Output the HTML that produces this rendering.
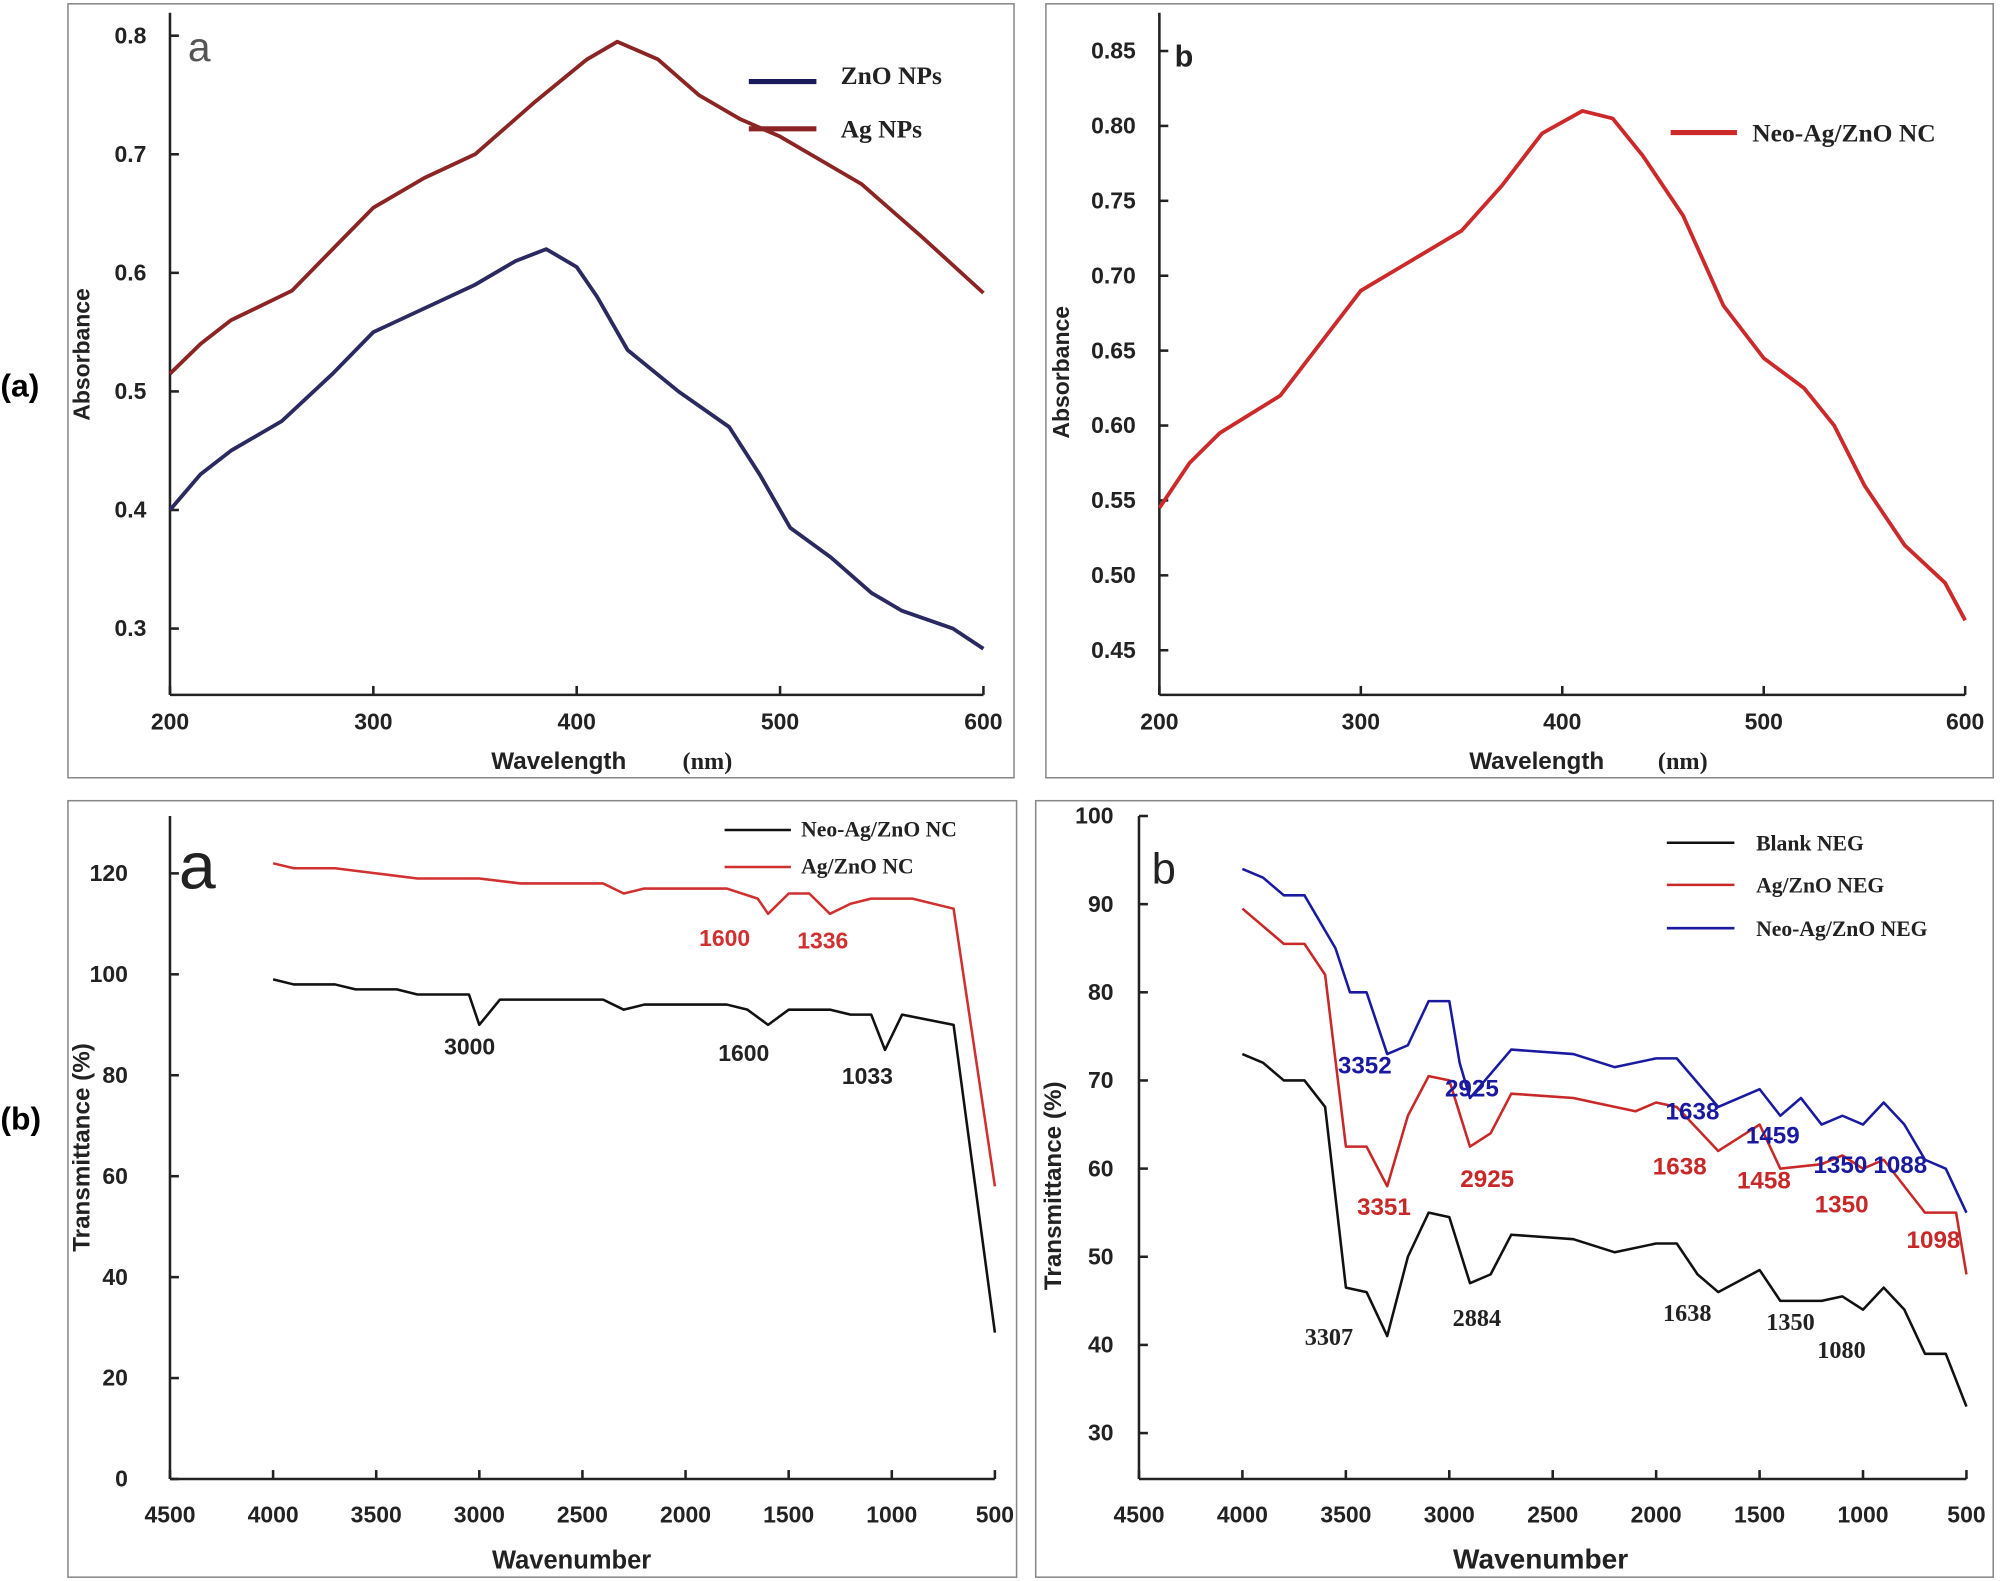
<!DOCTYPE html>
<html><head><meta charset="utf-8"><style>
html,body{margin:0;padding:0;background:#fff}
svg{display:block}
text{font-family:"Liberation Sans",Arial,sans-serif;font-weight:bold}
.s{font-family:"Liberation Serif",serif;font-weight:bold}
</style></head><body>
<svg id="c" width="2000" height="1581" viewBox="0 0 1568 1240" xmlns="http://www.w3.org/2000/svg">
<rect width="1568" height="1240" fill="#fff"/>
<rect x="53" y="3" width="742" height="607" fill="none" stroke="#888" stroke-width="1.2"/>
<rect x="820" y="3" width="743" height="607" fill="none" stroke="#888" stroke-width="1.2"/>
<rect x="53" y="628" width="744" height="609" fill="none" stroke="#888" stroke-width="1.2"/>
<rect x="812" y="628" width="751" height="609" fill="none" stroke="#888" stroke-width="1.2"/>
<text x="0" y="311" font-size="25" fill="#000">(a)</text>
<text x="0" y="886" font-size="25" fill="#000">(b)</text>
<g id="g"></g>
</svg>
<script>
var g=document.getElementById('g'),h='';
function P(pts,fx,fy,col,w){h+='<polyline fill="none" stroke="'+col+'" stroke-width="'+w+'" stroke-linejoin="round" points="'+pts.map(function(p){return fx(p[0]).toFixed(1)+','+fy(p[1]).toFixed(1)}).join(' ')+'"/>';}
function T(x,y,s,sz,col,anc,cls,rot){h+='<text x="'+x+'" y="'+y+'" font-size="'+sz+'" fill="'+(col||'#222')+'"'+(anc?' text-anchor="'+anc+'"':'')+(cls?' class="'+cls+'"':'')+(rot?' transform="rotate(-90 '+x+' '+y+')"':'')+'>'+s+'</text>';}
function L(a,b,c,d,w){h+='<line x1="'+a+'" y1="'+b+'" x2="'+c+'" y2="'+d+'" stroke="#222" stroke-width="'+(w||2)+'"/>';}
// Panel 1
var fx1=function(x){return 133+(x-200)*638/400},fy1=function(y){return 28+(0.8-y)*930};
L(133,10,133,545);L(133,545,771,545);
[200,300,400,500,600].forEach(function(v){L(fx1(v),545,fx1(v),538);T(fx1(v),572,v,18,'#222','middle');});
[0.3,0.4,0.5,0.6,0.7,0.8].forEach(function(v){L(133,fy1(v),140,fy1(v));T(102,fy1(v)+6,v.toFixed(1),18,'#222','middle');});
T(70,278,'Absorbance',18,'#222','middle','',1);
T(385,603,'Wavelength',19,'#222');T(535,603,'(nm)',19,'#222','','s');
h+='<text x="147" y="48" font-size="32" fill="#555" style="font-weight:normal">a</text>';
h+='<line x1="587" y1="64" x2="640" y2="64" stroke="#1a1a5a" stroke-width="4"/>';
h+='<line x1="587" y1="101" x2="640" y2="101" stroke="#8b2525" stroke-width="4"/>';
T(659,66,'ZnO NPs',20,'#222','','s');T(659,108,'Ag NPs',20,'#222','','s');
P([[200,.515],[215,.54],[230,.56],[260,.585],[280,.62],[300,.655],[325,.68],[350,.70],[380,.745],[405,.78],[420,.795],[440,.78],[460,.75],[480,.73],[500,.715],[520,.695],[540,.675],[570,.63],[600,.583]],fx1,fy1,'#8b2525',3);
P([[200,.40],[215,.43],[230,.45],[255,.475],[280,.515],[300,.55],[325,.57],[350,.59],[370,.61],[385,.62],[400,.605],[410,.58],[425,.535],[450,.50],[475,.47],[490,.43],[505,.385],[525,.36],[545,.33],[560,.315],[585,.30],[600,.283]],fx1,fy1,'#2a2a60',3);
// Panel 2
var fx2=function(x){return 909+(x-200)*632/400},fy2=function(y){return 40+(0.85-y)*1175};
L(909,10,909,545);L(909,545,1541,545);
[200,300,400,500,600].forEach(function(v){L(fx2(v),545,fx2(v),538);T(fx2(v),572,v,18,'#222','middle');});
[0.45,0.5,0.55,0.6,0.65,0.7,0.75,0.8,0.85].forEach(function(v){L(909,fy2(v),916,fy2(v));T(873,fy2(v)+6,v.toFixed(2),18,'#222','middle');});
T(838,292,'Absorbance',18,'#222','middle','',1);
T(1152,603,'Wavelength',19,'#222');T(1300,603,'(nm)',19,'#222','','s');
T(921,52,'b',24,'#222');
h+='<line x1="1310" y1="104" x2="1362" y2="104" stroke="#cc2a2a" stroke-width="4"/>';
T(1374,111,'Neo-Ag/ZnO NC',20,'#222','','s');
P([[200,.545],[215,.575],[230,.595],[260,.62],[280,.655],[300,.69],[325,.71],[350,.73],[370,.76],[390,.795],[410,.81],[425,.805],[440,.78],[460,.74],[480,.68],[500,.645],[520,.625],[535,.60],[550,.56],[570,.52],[590,.495],[600,.47]],fx2,fy2,'#cc2a2a',3);
// Panel 3
var fx3=function(x){return 133+(4500-x)*647/4000},fy3=function(y){return 1160-y*475/120};
L(133,640,133,1160);L(133,1160,780,1160);
[4500,4000,3500,3000,2500,2000,1500,1000,500].forEach(function(v){L(fx3(v),1160,fx3(v),1153);T(fx3(v),1194,v,18,'#222','middle');});
[0,20,40,60,80,100,120].forEach(function(v){L(133,fy3(v),140,fy3(v));T(100,fy3(v)+6,v,18,'#222','end');});
T(70,900,'Transmittance (%)',19,'#222','middle','',1);
T(448,1230,'Wavenumber',20,'#222','middle');
h+='<text x="140" y="697" font-size="52" fill="#222" style="font-weight:normal">a</text>';
h+='<line x1="568" y1="651" x2="620" y2="651" stroke="#111" stroke-width="2"/><line x1="568" y1="680" x2="620" y2="680" stroke="#d03030" stroke-width="2"/>';
T(628,656,'Neo-Ag/ZnO NC',17,'#222','','s');T(628,685,'Ag/ZnO NC',17,'#222','','s');
P([[4000,122],[3900,121],[3700,121],[3500,120],[3300,119],[3000,119],[2800,118],[2400,118],[2300,116],[2200,117],[1800,117],[1650,115],[1600,112],[1500,116],[1400,116],[1300,112],[1200,114],[1100,115],[900,115],[700,113],[500,58]],fx3,fy3,'#d03030',2);
P([[4000,99],[3900,98],[3700,98],[3600,97],[3400,97],[3300,96],[3050,96],[3000,90],[2900,95],[2400,95],[2300,93],[2200,94],[1800,94],[1700,93],[1600,90],[1500,93],[1300,93],[1200,92],[1100,92],[1033,85],[950,92],[700,90],[500,29]],fx3,fy3,'#111',2);
T(548,742,'1600',18,'#d03030');T(625,744,'1336',18,'#d03030');
T(348,827,'3000',18,'#222');T(563,832,'1600',18,'#222');T(660,850,'1033',18,'#222');
// Panel 4
var fx4=function(x){return 893+(4500-x)*649/4000},fy4=function(y){return 640+(100-y)*6.914};
L(893,640,893,1160);L(893,1160,1542,1160);
[4500,4000,3500,3000,2500,2000,1500,1000,500].forEach(function(v){L(fx4(v),1160,fx4(v),1153);T(fx4(v),1194,v,18,'#222','middle');});
[30,40,50,60,70,80,90,100].forEach(function(v){L(893,fy4(v),900,fy4(v));T(873,fy4(v)+6,v,18,'#222','end');});
T(832,930,'Transmittance (%)',19,'#222','middle','',1);
T(1208,1230,'Wavenumber',22,'#222','middle');
h+='<text x="903" y="693" font-size="34" fill="#222" style="font-weight:normal">b</text>';
h+='<line x1="1307" y1="661" x2="1360" y2="661" stroke="#111" stroke-width="2"/><line x1="1307" y1="694" x2="1360" y2="694" stroke="#c82828" stroke-width="2"/><line x1="1307" y1="728" x2="1360" y2="728" stroke="#1a1aa0" stroke-width="2"/>';
T(1377,667,'Blank NEG',17,'#222','','s');T(1377,700,'Ag/ZnO NEG',17,'#222','','s');T(1377,734,'Neo-Ag/ZnO NEG',17,'#222','','s');
P([[4000,94],[3900,93],[3800,91],[3700,91],[3550,85],[3480,80],[3400,80],[3300,73],[3200,74],[3100,79],[3000,79],[2950,72],[2900,68],[2700,73.5],[2400,73],[2200,71.5],[2000,72.5],[1900,72.5],[1700,67],[1500,69],[1400,66],[1300,68],[1200,65],[1100,66],[1000,65],[900,67.5],[800,65],[700,61],[600,60],[500,55]],fx4,fy4,'#1a1aa0',2);
P([[4000,89.5],[3800,85.5],[3700,85.5],[3600,82],[3500,62.5],[3400,62.5],[3300,58],[3200,66],[3100,70.5],[3000,70],[2900,62.5],[2800,64],[2700,68.5],[2400,68],[2300,67.5],[2100,66.5],[2000,67.5],[1900,67],[1700,62],[1500,65],[1400,60],[1200,60.5],[1100,61.5],[1000,60],[900,61],[700,55],[550,55],[500,48]],fx4,fy4,'#c82828',2);
P([[4000,73],[3900,72],[3800,70],[3700,70],[3600,67],[3500,46.5],[3400,46],[3300,41],[3200,50],[3100,55],[3000,54.5],[2900,47],[2800,48],[2700,52.5],[2400,52],[2200,50.5],[2000,51.5],[1900,51.5],[1800,48],[1700,46],[1500,48.5],[1400,45],[1200,45],[1100,45.5],[1000,44],[900,46.5],[800,44],[700,39],[600,39],[500,33]],fx4,fy4,'#111',2);
T(1049,842,'3352',19,'#1a1aa0');T(1133,860,'2925',19,'#1a1aa0');T(1306,878,'1638',19,'#1a1aa0');T(1369,897,'1459',19,'#1a1aa0');T(1422,920,'1350',19,'#1a1aa0');T(1469,920,'1088',19,'#1a1aa0');
T(1064,953,'3351',19,'#c82828');T(1145,931,'2925',19,'#c82828');T(1296,921,'1638',19,'#c82828');T(1362,932,'1458',19,'#c82828');T(1423,951,'1350',19,'#c82828');T(1495,979,'1098',19,'#c82828');
T(1023,1055,'3307',19,'#222','','s');T(1139,1040,'2884',19,'#222','','s');T(1304,1036,'1638',19,'#222','','s');T(1385,1043,'1350',19,'#222','','s');T(1425,1065,'1080',19,'#222','','s');
g.innerHTML=h;
</script>
</body></html>
